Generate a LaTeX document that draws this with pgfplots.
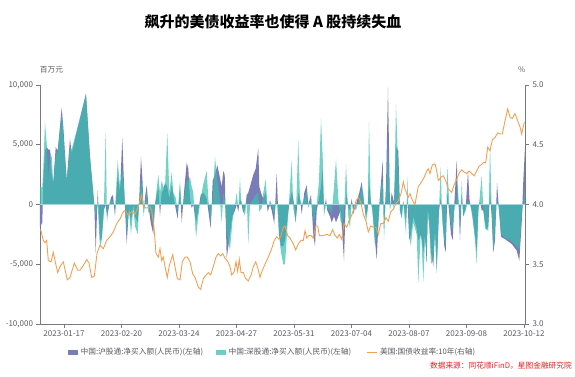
\documentclass[border=0pt]{standalone}
\usepackage{fontspec}
\setmainfont{Noto Sans CJK SC}
\usepackage{pgfplots}
\usepackage{pgfplotstable}
\pgfplotsset{compat=1.18}
\definecolor{hugu}{RGB}{122,124,182}
\definecolor{shengu}{RGB}{55,191,174}
\definecolor{yld}{RGB}{245,160,80}
\definecolor{axgray}{RGB}{120,122,130}
\definecolor{lblgray}{RGB}{90,90,96}
\definecolor{zeroline}{RGB}{170,212,220}
\definecolor{srcred}{RGB}{232,30,30}

\pgfplotstableread{
x P T
0 -1900 1450
2.3 -1500 1450
3.3 2000 3000
5 4500 6900
6.7 4800 5100
8.3 4600 2200
10 4600 4400
11.7 2500 4000
13.3 1800 1800
15.7 4800 4200
17.7 4500 4500
21.7 8100 7500
23.3 6500 6000
26.7 2000 2000
30 5500 4800
31.7 4300 4600
46 9300 9200
50 4000 4000
54.3 0 0
55.7 -4100 -1000
57.7 1200 0
60 -3000 -3600
61.7 -2800 -3000
63.7 -500 -1000
65.7 0 6200
67 -1000 -1500
69 -200 0
71 600 400
73 800 200
75 -1000 -400
77.7 2500 3700
80 1000 1500
82.3 5600 3000
84.3 1000 1200
86.7 -3300 -2500
89 -200 -500
91 -1500 -2500
93.3 0 -300
95 -1000 -1800
97.7 -1500 -2500
99 0 0
101 4000 2000
102.5 2000 1500
103.7 -700 -1000
105 600 0
106.7 1600 1000
108.3 0 -700
110.7 -1500 -500
113.3 -2500 -2000
115 0 0
118.3 1500 2500
120 -1000 1000
121.7 1000 2000
123.3 1200 1500
125 1800 1400
127.3 1500 6000
129.3 500 1000
131.7 1600 2700
133.3 800 1000
136 -500 500
137.7 -1200 -800
140 1500 2000
141.7 -1500 -500
144 1000 500
146.7 3500 2000
148.3 3000 2000
150 500 2300
151.7 -300 1500
153.3 0 1000
156 -1500 -2800
158.3 -500 -1000
160.7 800 500
163.3 1000 1700
166.7 500 2800
168.3 -500 500
170.7 -2000 -1500
172.7 2000 500
175 2500 4000
177.3 3300 2000
179.3 2500 1000
181.7 1500 -1500
183.3 2800 1000
184.7 2500 500
186.7 -4500 -2500
190 -2500 -3800
192.3 -1000 -1500
195 -500 0
196.7 0 1000
198.3 -600 -300
200 500 2200
201 200 500
203.3 -700 -500
205 -400 -1000
206.7 800 600
208.3 1000 -3300
210 1500 0
213.3 2500 500
215.7 3000 800
218.3 4700 1000
219.3 1500 -600
221.7 800 -300
223.3 500 1000
225.7 1000 2100
227.7 -600 -400
230 0 400
231.7 -500 0
234.3 -1600 -1000
236.7 2600 500
239 -2500 -2500
241 -3500 -4000
243.3 -3500 -5000
245 -3000 -5000
247.7 -1000 -1500
250 500 1500
251.7 1000 3700
253.3 500 -300
255.7 -1500 -1500
258.3 1000 5400
260 500 500
261.7 -800 0
264.3 1000 500
266.7 1600 1200
268.3 0 -300
271 800 500
273.3 -2500 -1500
275 -3500 -1000
276.7 -500 0
279 500 2000
281 1500 7200
282.7 3000 4000
284 -500 -1000
286 500 0
287.3 -500 -300
290 -1000 -500
291.7 -1500 -800
294 -1000 1500
296 -1500 3800
298.3 -1000 500
300.7 -500 -1500
302.7 -3000 -1500
304 -4700 -1000
306 1000 3400
308.3 -300 -1000
310 -500 -2000
311.7 500 200
313.3 -800 0
316 0 -500
319.3 1000 500
321.7 1900 1500
323.3 600 1000
326 -1000 -1500
327.7 -300 -500
329 2000 6900
330.7 300 500
332.7 -500 -1000
335 -3000 -3500
336.7 -4600 -2500
339.3 0 -500
341 1800 1500
342.7 3700 2000
344 -2000 -3000
346 1500 1000
348 9800 5000
350 -300 -500
351.7 1000 500
354 200 -400
356 4800 8400
358.3 4500 3000
360 -500 -600
361.7 -1000 -1200
363.3 300 100
366 -1500 -2500
367.3 500 2400
369.3 -3000 -2500
370.7 -2500 -3500
373.3 -1000 -1500
376.7 -2000 -2500
378.3 -3000 -6600
381 -2500 -2000
383.3 -4000 -6500
385 -2500 -3000
386.7 -5000 -4000
387.7 -500 -1000
389 -1000 -1500
391 -4000 -5000
393.3 -5200 -4500
395 -2000 -2500
396.7 -5400 -5800
399 -500 -500
400.7 500 3200
402.3 -800 -1500
404.3 -3500 -3000
405.7 -4000 -3500
407.3 1000 3200
409 -500 500
411 -2500 -2000
412.7 -3000 -2000
414.3 0 -500
416.7 3700 500
417.7 1000 2000
419 -500 -600
420 -3000 -2500
421.7 800 2000
423.3 -1000 -1000
425.7 -300 -500
428 2800 300
429.5 400 200
431 -200 -400
432.3 -800 -1000
435 -2500 -3000
436.7 -4000 -5000
438.3 -300 -800
440 300 900
441.7 -500 2400
443.3 -500 -300
445 -1500 -2000
446.7 -2100 -2100
448.3 -1800 -2200
450 1000 5000
451.7 -1000 -500
453.3 -4000 -4000
455 -3000 -2000
457 1800 500
459 -400 -500
461 -2700 -2500
465 -2900 -2800
471.7 -3300 -3100
476.7 -3850 -3500
479.3 -4700 -3800
481.7 -1500 -1000
483.3 2000 0
485 4800 1500
}\flows

\pgfplotstableread{
x r
0 3.79
1 3.78
3.3 3.70
5 3.68
6.7 3.70
8.3 3.53
11 3.52
13.3 3.60
15 3.53
17.7 3.43
20 3.48
23.3 3.52
27.3 3.37
30 3.39
34.3 3.51
37.7 3.45
40 3.45
43.3 3.49
46.7 3.54
49 3.51
51.7 3.39
54.3 3.40
57 3.59
60 3.66
63.3 3.63
66.7 3.70
70 3.73
73.3 3.77
76.7 3.84
80 3.88
83.3 3.94
85 3.95
88.3 3.91
91.7 3.94
95 3.92
98 3.98
100 4.03
101.7 4.08
103.3 3.98
106.7 3.97
110 3.98
111.7 3.95
114 3.81
116 3.59
118.3 3.56
120 3.63
121.7 3.53
123.3 3.56
125 3.48
127.3 3.39
129.3 3.49
132.7 3.58
135 3.48
137.3 3.38
140 3.37
142.3 3.52
145 3.56
147.3 3.56
150 3.52
152.7 3.42
155 3.39
158.3 3.31
160.7 3.29
163.3 3.38
165 3.40
168.3 3.43
170.7 3.41
173.3 3.48
176 3.56
178.3 3.59
180.7 3.57
182.7 3.59
185 3.55
187.3 3.53
190 3.48
191.7 3.41
194.3 3.44
196 3.52
197.7 3.44
199.3 3.54
201 3.43
203.3 3.43
205.7 3.38
208.3 3.36
211 3.41
213.3 3.48
215.7 3.52
217.7 3.47
220 3.39
222.3 3.45
225 3.50
228.3 3.56
231.7 3.63
234.3 3.70
236.7 3.73
239 3.71
241 3.74
243.3 3.81
245 3.82
247.7 3.74
250 3.72
253.3 3.67
255.7 3.62
258.3 3.67
261 3.70
263.3 3.70
265 3.78
266.7 3.72
269 3.74
271 3.74
273.3 3.72
275.7 3.82
277.7 3.82
279.3 3.74
281.7 3.74
283.3 3.74
286.7 3.75
290 3.74
292.7 3.79
295 3.74
297.3 3.72
299.3 3.75
301.7 3.71
304 3.84
306.7 3.81
309.3 3.87
311.7 3.91
313.3 3.95
316 4.03
318.3 4.06
320.7 4.02
323.3 3.92
326 3.86
328.3 3.77
330.7 3.82
333.3 3.81
336 3.81
338.3 3.75
340.7 3.84
343.3 3.84
346 3.89
348.3 3.86
350.7 3.94
353.3 3.96
356 4.01
358.3 4.03
361 4.09
363.3 4.19
365 4.13
366.7 4.09
368.3 4.06
370 4.09
371.7 4.05
373.3 4.02
375 4.00
376.7 4.08
378.3 4.15
380 4.17
382.3 4.20
384.3 4.23
386.7 4.28
388.3 4.30
390 4.26
392.3 4.33
395 4.34
396.7 4.28
398.3 4.20
401 4.23
403.3 4.24
405.7 4.20
408.3 4.13
411.7 4.10
414.3 4.17
416.7 4.21
419 4.26
421.7 4.29
424.3 4.27
426.7 4.26
429 4.28
431.7 4.26
434.3 4.24
436.7 4.28
439 4.32
441 4.33
443.3 4.35
445.7 4.35
447.7 4.48
450 4.45
452.3 4.54
455 4.56
457.7 4.60
460 4.59
462.3 4.59
465 4.70
467.7 4.80
470 4.73
472.3 4.72
475 4.76
477.7 4.70
480 4.65
481.7 4.59
484.3 4.69
}\yield

\begin{document}
\begin{tikzpicture}
\useasboundingbox (-40pt,-52pt) rectangle (535pt,324pt);
\begin{axis}[
  at={(0,0)}, anchor=south west,
  scale only axis, width=485.5pt, height=239pt,
  xmin=0, xmax=485.5, ymin=-10000, ymax=10000,
  axis y line*=left, axis x line*=bottom,
  axis line style={-, draw=axgray, line width=0.6pt},
  xtick={24,81.5,139,196.5,254,311.5,369,426.5,484},
  xticklabels={2023-01-17,2023-02-20,2023-03-24,2023-04-27,2023-05-31,2023-07-04,2023-08-07,2023-09-08,2023-10-12},
  ytick={-10000,-5000,0,5000,10000},
  scaled y ticks=false,
  tick align=outside, major tick length=3.5pt,
  tick style={draw=axgray, line width=0.6pt},
  /pgf/number format/assume math mode=true,
  /pgf/number format/1000 sep={,},
  ticklabel style={font=\fontsize{8}{9}\selectfont, text=lblgray},
]
\addplot[fill=hugu, draw=none] table[x=x,y=P]{\flows} \closedcycle;
\addplot[fill=shengu, fill opacity=0.7, draw=none] table[x=x,y=T]{\flows} \closedcycle;
\addplot[draw=zeroline, line width=0.8pt] coordinates {(0,0) (485.5,0)};
\end{axis}
\begin{axis}[
  at={(0,0)}, anchor=south west,
  scale only axis, width=485.5pt, height=239pt,
  xmin=0, xmax=485.5, ymin=3, ymax=5,
  axis x line=none, axis y line*=right,
  axis line style={-, draw=axgray, line width=0.6pt},
  ytick={3,3.5,4,4.5,5},
  tick align=outside, major tick length=3.5pt,
  tick style={draw=axgray, line width=0.6pt},
  /pgf/number format/assume math mode=true,
  yticklabel style={/pgf/number format/.cd, fixed, fixed zerofill, precision=1},
  ticklabel style={font=\fontsize{8}{9}\selectfont, text=lblgray},
]
\addplot[draw=yld, line width=0.9pt] table[x=x,y=r]{\yield};
\end{axis}
\node[font=\fontsize{15}{17}\selectfont\bfseries] at (233pt,302pt) {飙升的美债收益率也使得 A 股持续失血};
\node[font=\fontsize{7.7}{9}\selectfont, text=lblgray] at (11.5pt,254pt) {百万元};
\node[font=\fontsize{7.7}{9}\selectfont, text=lblgray] at (481.7pt,254pt) {\%};
\fill[hugu] (28pt,-30.5pt) rectangle (38pt,-25.5pt);
\node[anchor=west, inner sep=0pt, font=\fontsize{7.7}{9}\selectfont, text=lblgray] at (40.5pt,-28pt) {中国:沪股通:净买入额(人民币)(左轴)};
\fill[shengu, opacity=0.75] (176pt,-30.5pt) rectangle (186pt,-25.5pt);
\node[anchor=west, inner sep=0pt, font=\fontsize{7.7}{9}\selectfont, text=lblgray] at (188.5pt,-28pt) {中国:深股通:净买入额(人民币)(左轴)};
\draw[yld, line width=1pt] (327pt,-28pt) -- (337pt,-28pt);
\node[anchor=west, inner sep=0pt, font=\fontsize{7.7}{9}\selectfont, text=lblgray] at (340pt,-28pt) {美国:国债收益率:10年(右轴)};
\node[anchor=east, inner sep=0pt, font=\fontsize{7.7}{9}\selectfont, text=srcred] at (532pt,-42pt) {数据来源：同花顺iFinD，星图金融研究院};
\end{tikzpicture}
\end{document}
